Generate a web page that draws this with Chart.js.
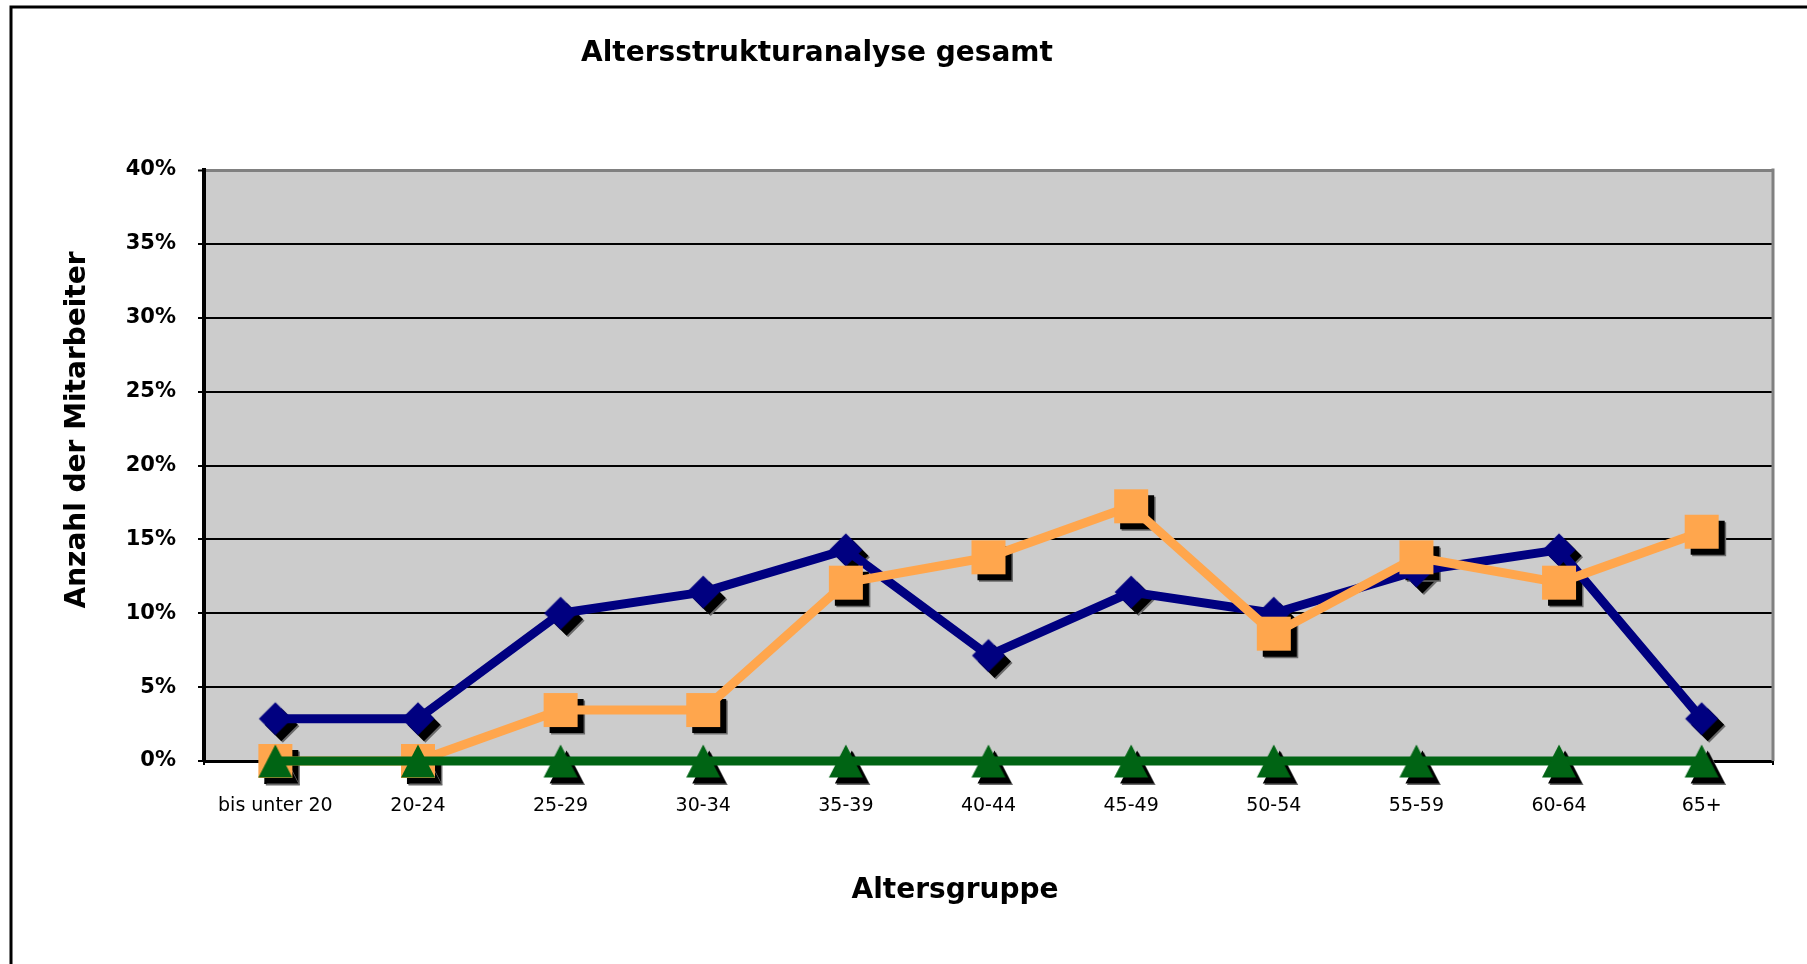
<!DOCTYPE html>
<html>
<head>
<meta charset="utf-8">
<script src="https://cdn.jsdelivr.net/npm/chart.js@4/dist/chart.umd.min.js"></script>
<style>
  html, body { margin: 0; padding: 0; background: #ffffff; }
  #wrap { width: 1807px; height: 964px; position: relative; }
</style>
</head>
<body>
<div id="wrap"><canvas id="chart" width="1807" height="964"></canvas></div>
<script>
// ---- data ----
const categories = ['bis unter 20', '20-24', '25-29', '30-34', '35-39', '40-44', '45-49', '50-54', '55-59', '60-64', '65+'];
const seriesNavy = [2.86, 2.86, 10.0, 11.43, 14.29, 7.14, 11.43, 10.0, 12.86, 14.29, 2.86];
const seriesOrange = [0, 0, 3.45, 3.45, 12.07, 13.79, 17.24, 8.62, 13.79, 12.07, 15.52];
const seriesGreen = [0, 0, 0, 0, 0, 0, 0, 0, 0, 0, 0];
const yTickLabels = ['0%', '5%', '10%', '15%', '20%', '25%', '30%', '35%', '40%'];
const chartTitle = 'Altersstrukturanalyse gesamt';
const xAxisTitle = 'Altersgruppe';
const yAxisTitle = 'Anzahl der Mitarbeiter';

// ---- styles ----
const FONT = '"DejaVu Sans", Verdana, sans-serif';
const NAVY = '#000080';
const ORANGE = '#FFA64D';
const GREEN = '#006414';
const PLOT_BG = '#CCCCCC';
const SHADOW_OFF = 6;

function shapePath(ctx, shape, cx, cy) {
  ctx.beginPath();
  if (shape === 'diamond') {
    const r = 16.5;
    ctx.moveTo(cx, cy - r);
    ctx.lineTo(cx + r, cy);
    ctx.lineTo(cx, cy + r);
    ctx.lineTo(cx - r, cy);
  } else if (shape === 'square') {
    const h = 17;
    ctx.rect(cx - h, cy - h, 2 * h, 2 * h);
  } else {
    ctx.moveTo(cx, cy - 16.5);
    ctx.lineTo(cx + 17, cy + 16.5);
    ctx.lineTo(cx - 17, cy + 16.5);
  }
  ctx.closePath();
}

function makeMarker(shape, color) {
  const c = document.createElement('canvas');
  c.width = 40; c.height = 40;
  const g = c.getContext('2d');
  g.fillStyle = color;
  shapePath(g, shape, 20, 20);
  g.fill();
  return c;
}

const frameAndBackground = {
  id: 'frameAndBackground',
  beforeDraw(chart) {
    const ctx = chart.ctx;
    const a = chart.chartArea;
    ctx.save();
    ctx.fillStyle = '#ffffff';
    ctx.fillRect(0, 0, chart.width, chart.height);
    // outer chart frame (extends beyond right/bottom edges)
    ctx.strokeStyle = '#000000';
    ctx.lineWidth = 3;
    ctx.beginPath();
    ctx.moveTo(11, chart.height + 5);
    ctx.lineTo(11, 7);
    ctx.lineTo(chart.width + 5, 7);
    ctx.stroke();
    // plot area
    ctx.fillStyle = PLOT_BG;
    ctx.fillRect(a.left, a.top, a.right - a.left, a.bottom - a.top);
    ctx.restore();
  },
  beforeDatasetsDraw(chart) {
    const ctx = chart.ctx;
    const a = chart.chartArea;
    ctx.save();
    // right border of plot area
    ctx.strokeStyle = '#808080';
    ctx.lineWidth = 3;
    ctx.beginPath();
    ctx.moveTo(a.right, a.top - 1.5);
    ctx.lineTo(a.right, a.bottom);
    ctx.stroke();
    // marker shadows (below all lines)
    chart.data.datasets.forEach((ds, i) => {
      if (!chart.isDatasetVisible(i)) return;
      const meta = chart.getDatasetMeta(i);
      meta.data.forEach(pt => {
        ctx.fillStyle = '#6a6a6a';
        shapePath(ctx, ds.markerShape, pt.x + SHADOW_OFF + 1.5, pt.y + SHADOW_OFF + 1.5);
        ctx.fill();
        ctx.fillStyle = '#000000';
        shapePath(ctx, ds.markerShape, pt.x + SHADOW_OFF, pt.y + SHADOW_OFF);
        ctx.fill();
      });
    });
    ctx.restore();
  },
  afterDraw(chart) {
    const ctx = chart.ctx;
    ctx.save();
    ctx.fillStyle = '#000000';
    ctx.textAlign = 'center';
    ctx.textBaseline = 'alphabetic';
    ctx.font = 'bold 28px ' + FONT;
    ctx.fillText(chartTitle, 817, 61);
    ctx.fillText(xAxisTitle, 955, 898);
    ctx.translate(85, 430);
    ctx.rotate(-Math.PI / 2);
    ctx.fillText(yAxisTitle, 0, 0);
    ctx.restore();
  }
};

const commonLine = {
  borderWidth: 9,
  tension: 0,
  fill: false,
  clip: false,
  borderJoinStyle: 'round',
  pointRadius: 17,
  pointHoverRadius: 17,
  pointBorderWidth: 0
};

new Chart(document.getElementById('chart'), {
  type: 'line',
  data: {
    labels: categories,
    datasets: [
      Object.assign({}, commonLine, {
        label: 'Reihe1', data: seriesNavy, borderColor: NAVY, backgroundColor: NAVY,
        pointStyle: makeMarker('diamond', NAVY), markerShape: 'diamond', order: 3
      }),
      Object.assign({}, commonLine, {
        label: 'Reihe2', data: seriesOrange, borderColor: ORANGE, backgroundColor: ORANGE,
        pointStyle: makeMarker('square', ORANGE), markerShape: 'square', order: 2
      }),
      Object.assign({}, commonLine, {
        label: 'Reihe3', data: seriesGreen, borderColor: GREEN, backgroundColor: GREEN,
        pointStyle: makeMarker('triangle', GREEN), markerShape: 'triangle', order: 1
      })
    ]
  },
  options: {
    responsive: false,
    animation: false,
    devicePixelRatio: 1,
    layout: { padding: { top: 170, right: 34, bottom: 0, left: 0 } },
    plugins: {
      legend: { display: false },
      title: { display: false },
      tooltip: { enabled: false }
    },
    scales: {
      x: {
        type: 'category',
        offset: true,
        ticks: {
          font: { family: FONT, size: 19 },
          color: '#000000',
          padding: 30,
          maxRotation: 0,
          autoSkip: false
        },
        grid: {
          offset: true,
          drawOnChartArea: false,
          drawTicks: true,
          tickLength: 4,
          color: '#000000',
          lineWidth: 2
        },
        border: { color: '#000000', width: 3 },
        afterFit(scale) { scale.height = 203; }
      },
      y: {
        min: 0,
        max: 40,
        ticks: {
          stepSize: 5,
          callback: (v, i) => yTickLabels[i],
          font: { family: FONT, size: 21, weight: 'bold' },
          color: '#000000',
          padding: 22
        },
        grid: {
          color: c => (c.tick && c.tick.value === 40) ? '#808080' : '#000000',
          lineWidth: c => (c.tick && c.tick.value === 40) ? 3 : 2,
          tickColor: '#000000',
          tickLength: 6,
          tickWidth: 2,
          drawTicks: true
        },
        border: { color: '#000000', width: 4 },
        afterFit(scale) { scale.width = 204; }
      }
    }
  },
  plugins: [frameAndBackground]
});
</script>
</body>
</html>
